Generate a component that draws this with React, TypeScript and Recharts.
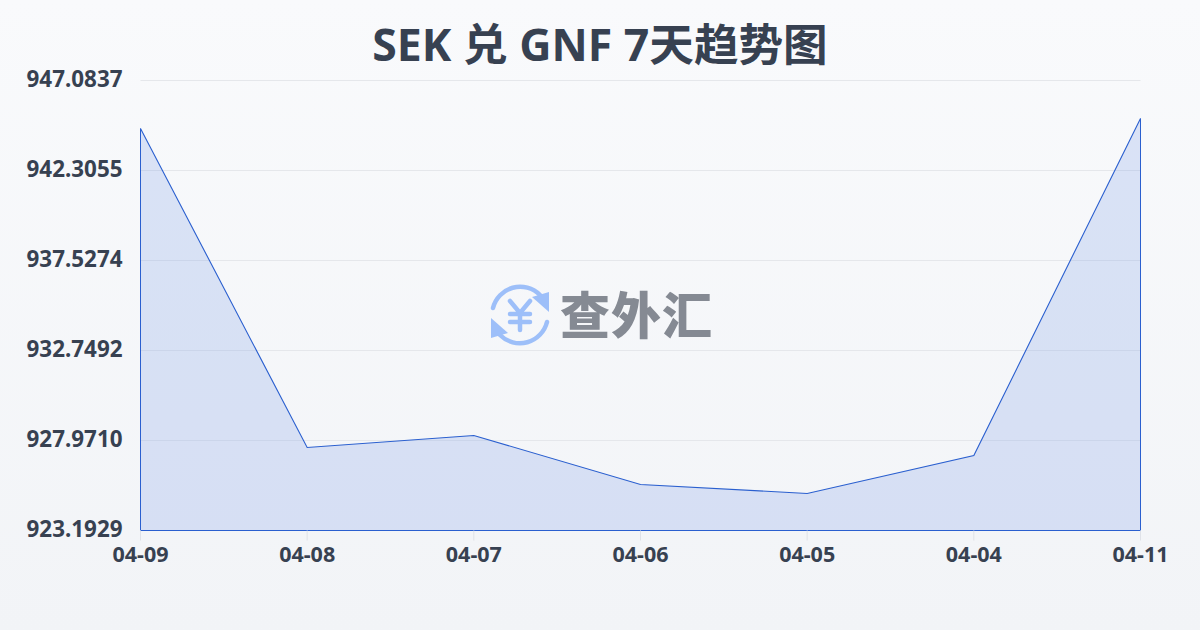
import { AreaChart, Area, XAxis, YAxis, CartesianGrid, ReferenceLine } from "recharts";

const dates = ["04-09", "04-08", "04-07", "04-06", "04-05", "04-04", "04-11"];
const rates = [944.535, 927.599, 928.237, 925.635, 925.157, 927.175, 945.066];
const yTicks = [923.1929, 927.971, 932.7492, 937.5274, 942.3055, 947.0837];

const chartData = dates.map((date, i) => ({ date, rate: rates[i] }));

const LINE = "#2a5fcf";
const INK = "#374151";
const FONT = '"Noto Sans", "Noto Sans CJK SC", sans-serif';
const yMin = yTicks[0];
const yMax = yTicks[yTicks.length - 1];
const firstDate = dates[0];
const lastDate = dates[dates.length - 1];

function Watermark() {
  return (
    <div style={{ position: "absolute", left: 488, top: 283, display: "flex", alignItems: "center" }}>
      <svg width={64} height={64} viewBox="0 0 64 64">
        <g fill="none" stroke="#9dbff9" strokeWidth={4.5} strokeLinecap="round">
          <path d="M5 25 A28 28 0 0 1 52 12" />
          <path d="M59 39 A28 28 0 0 1 12 52" />
          <path d="M22 18 L32 30 L42 18 M32 30 V47 M22 31 H42 M22 39 H42" />
        </g>
        <path d="M44 14 L61 9 L61 29 Z" fill="#9dbff9" />
        <path d="M3 35 L20 50 L3 55 Z" fill="#9dbff9" />
      </svg>
      <span
        style={{
          marginLeft: 8,
          marginTop: -6,
          fontFamily: '"Noto Sans CJK SC", sans-serif',
          fontWeight: 900,
          fontSize: 50,
          lineHeight: "64px",
          letterSpacing: 1,
          color: "#858a93",
        }}
      >
        查外汇
      </span>
    </div>
  );
}

export default function App() {
  return (
    <div
      style={{
        position: "fixed",
        left: 0,
        top: 0,
        width: 1200,
        height: 630,
        overflow: "hidden",
        background: "linear-gradient(180deg, #f9fafc 0%, #f2f4f7 100%)",
        fontFamily: FONT,
      }}
    >
      <div
        style={{
          position: "absolute",
          left: 0,
          top: 14,
          width: 1200,
          textAlign: "center",
          fontSize: 44.6,
          lineHeight: "60px",
          fontWeight: 700,
          color: INK,
        }}
      >
        SEK 兑 GNF 7天趋势图
      </div>
      <AreaChart
        width={1200}
        height={630}
        data={chartData}
        margin={{ top: 80.5, right: 59.5, bottom: 59.5, left: 0.5 }}
        style={{ position: "absolute", left: 0, top: 0 }}
      >
        <CartesianGrid horizontal vertical={false} stroke="#e5e7eb" strokeWidth={1} />
        <XAxis
          dataKey="date"
          interval={0}
          height={40}
          axisLine={{ stroke: LINE, strokeWidth: 1 }}
          tickLine={{ stroke: "#dfe2e8", strokeWidth: 1 }}
          tickSize={10}
          tickMargin={6}
          tick={{ fontSize: 21.5, fontWeight: 700, fill: INK, fontFamily: FONT }}
        />
        <YAxis
          type="number"
          domain={[yMin, yMax]}
          ticks={yTicks}
          interval={0}
          width={140}
          axisLine={false}
          tickLine={false}
          tickMargin={12}
          tickFormatter={(v: number) => v.toFixed(4)}
          tick={{ fontSize: 22.4, fontWeight: 700, fill: INK, fontFamily: FONT, dy: -1.5 }}
        />
        <Area
          type="linear"
          dataKey="rate"
          stroke={LINE}
          strokeWidth={1.1}
          fill="#7fa1e6"
          fillOpacity={0.25}
          dot={false}
          activeDot={false}
          isAnimationActive={false}
        />
        <ReferenceLine
          segment={[
            { x: firstDate, y: yMin },
            { x: firstDate, y: rates[0] },
          ]}
          stroke={LINE}
          strokeWidth={1}
        />
        <ReferenceLine
          segment={[
            { x: lastDate, y: yMin },
            { x: lastDate, y: rates[rates.length - 1] },
          ]}
          stroke={LINE}
          strokeWidth={1}
        />
      </AreaChart>
      <Watermark />
    </div>
  );
}
